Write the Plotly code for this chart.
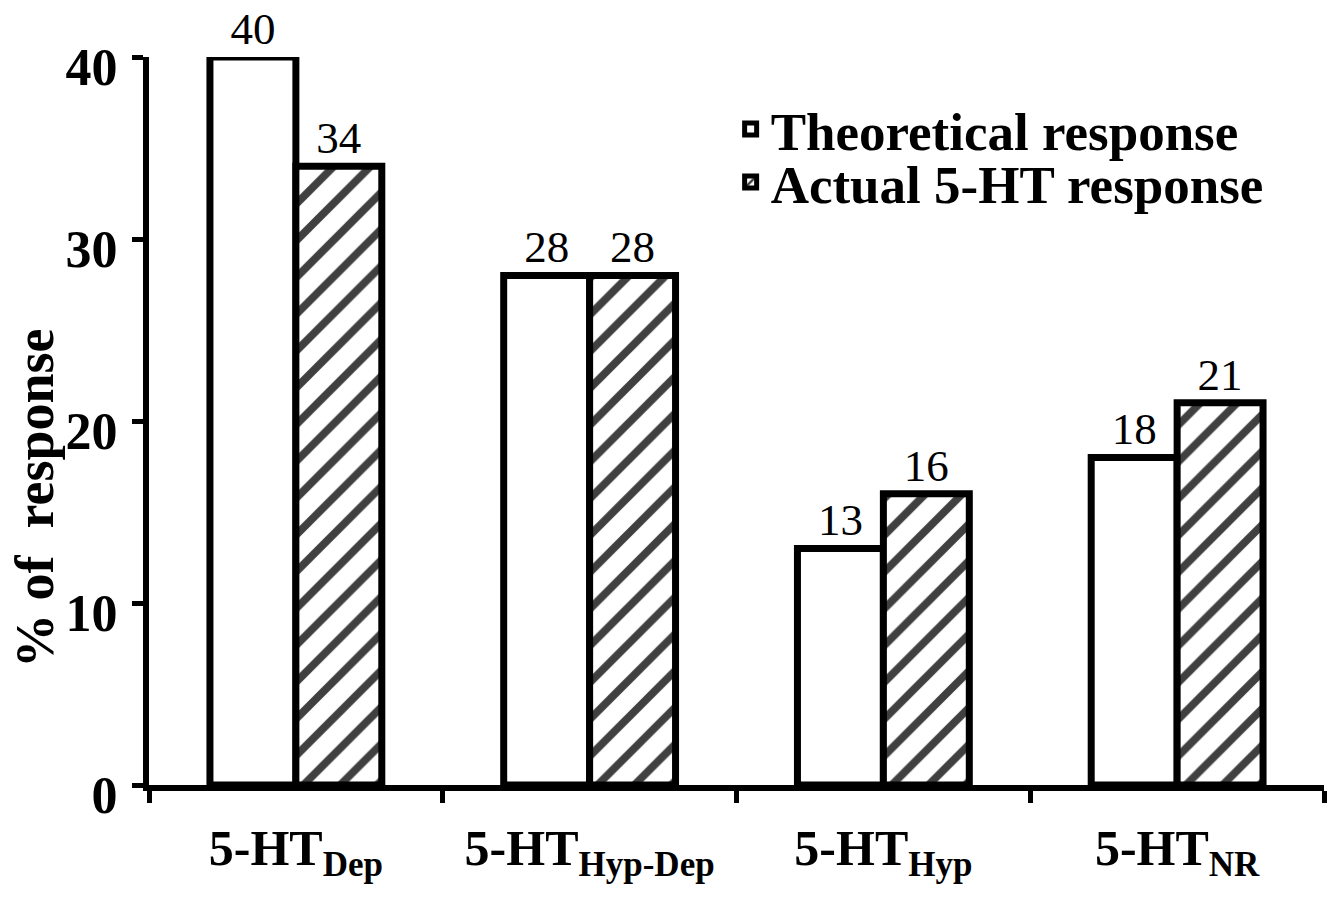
import plotly.graph_objects as go

categories = ["5-HT<sub>Dep</sub>", "5-HT<sub>Hyp-Dep</sub>", "5-HT<sub>Hyp</sub>", "5-HT<sub>NR</sub>"]
theoretical = [40, 28, 13, 18]
actual = [34, 28, 16, 21]
series_names = ["Theoretical response", "Actual 5-HT response"]
y_ticks = [0, 10, 20, 30, 40]
y_title = "% of  response"

SERIF = "Liberation Serif, Times New Roman, serif"
LEG_FONT = dict(family=SERIF, size=53, color="black", weight="bold")

fig = go.Figure()
fig.add_trace(go.Bar(
    name=series_names[0], x=categories, y=theoretical,
    text=[str(v) for v in theoretical], textposition="outside",
    textfont=dict(family=SERIF, size=45, color="black"),
    marker=dict(color="white", line=dict(color="black", width=7)),
    cliponaxis=False, legend="legend",
))
fig.add_trace(go.Bar(
    name=series_names[1], x=categories, y=actual,
    text=[str(v) for v in actual], textposition="outside",
    textfont=dict(family=SERIF, size=45, color="black"),
    marker=dict(color="white", line=dict(color="black", width=7),
                pattern=dict(shape="/", fgcolor="#404040", bgcolor="white",
                             size=26, solidity=0.3, fillmode="replace")),
    cliponaxis=False, legend="legend2",
))

fig.update_layout(
    width=1336, height=903,
    margin=dict(l=149, r=12, t=57, b=118),
    paper_bgcolor="white", plot_bgcolor="white",
    barmode="group", bargap=0.415, bargroupgap=0,
    font=dict(family=SERIF, color="black"),
    showlegend=True,
    legend=dict(x=0.495, y=(785 - 129) / 728, xanchor="left", yanchor="middle",
                bgcolor="rgba(0,0,0,0)", font=LEG_FONT, itemwidth=30),
    legend2=dict(x=0.495, y=(785 - 182) / 728, xanchor="left", yanchor="middle",
                 bgcolor="rgba(0,0,0,0)", font=LEG_FONT, itemwidth=30),
    xaxis=dict(
        type="category", range=[-0.5, 3.5],
        showline=True, linecolor="black", linewidth=6,
        ticks="outside", tickson="boundaries", ticklen=12, tickwidth=5, tickcolor="black",
        tickfont=dict(family=SERIF, size=50, color="black", weight="bold"),
        ticklabelstandoff=14,
        showgrid=False, zeroline=False,
    ),
    yaxis=dict(
        range=[0, 40], tickvals=y_ticks,
        showline=True, linecolor="black", linewidth=6,
        ticks="outside", ticklen=11, tickwidth=5, tickcolor="black",
        tickfont=dict(family=SERIF, size=52, color="black", weight="bold"),
        ticklabelshift=10, ticklabelstandoff=4,
        showgrid=False, zeroline=False,
    ),
    annotations=[dict(
        text=y_title, xref="paper", yref="paper",
        x=(35 - 149) / 1175, y=(785 - 498) / 728,
        xanchor="center", yanchor="middle", textangle=-90, showarrow=False,
        font=dict(family=SERIF, size=54, color="black", weight="bold"),
    )],
)

fig.write_html("out.html")
